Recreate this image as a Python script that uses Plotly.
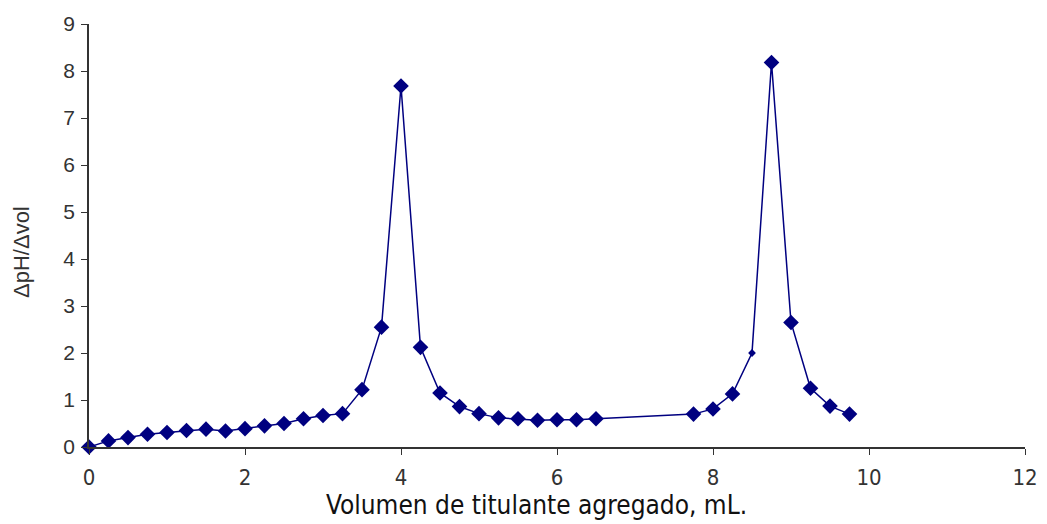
import plotly.graph_objects as go

# Titration derivative data: added titrant volume (mL) and ΔpH/Δvol
volumen = [0.0, 0.25, 0.5, 0.75, 1.0, 1.25, 1.5, 1.75, 2.0, 2.25, 2.5, 2.75,
           3.0, 3.25, 3.5, 3.75, 4.0, 4.25, 4.5, 4.75, 5.0, 5.25, 5.5, 5.75,
           6.0, 6.25, 6.5, 7.75, 8.0, 8.25, 8.5, 8.75, 9.0, 9.25, 9.5, 9.75]
dph_dvol = [0.0, 0.13, 0.2, 0.27, 0.31, 0.35, 0.38, 0.34, 0.39, 0.45, 0.5, 0.6,
            0.67, 0.71, 1.22, 2.55, 7.68, 2.12, 1.15, 0.86, 0.71, 0.62, 0.6, 0.57,
            0.58, 0.58, 0.6, 0.7, 0.81, 1.13, 2.0, 8.18, 2.65, 1.25, 0.87, 0.7]

x_ticks = [0, 2, 4, 6, 8, 10, 12]
y_ticks = [0, 1, 2, 3, 4, 5, 6, 7, 8, 9]

marker_sizes = [6 if v == 8.5 else 12 for v in volumen]

navy = "#000080"
axis_grey = "#333333"
narrow = "DejaVu Sans Condensed, Liberation Sans"
regular = "Liberation Sans"

fig = go.Figure(
    go.Scatter(
        x=volumen,
        y=dph_dvol,
        mode="lines+markers",
        line=dict(color=navy, width=1.5),
        marker=dict(symbol="diamond", size=marker_sizes, color=navy,
                    opacity=1, line=dict(width=0)),
        cliponaxis=False,
        showlegend=False,
    )
)

fig.update_layout(
    width=1047,
    height=524,
    margin=dict(l=89, r=22, t=24, b=77, autoexpand=False),
    paper_bgcolor="white",
    plot_bgcolor="white",
    xaxis=dict(
        range=[0, 12],
        tickvals=x_ticks,
        ticks="outside",
        ticklen=6,
        tickcolor=axis_grey,
        showline=True,
        linecolor=axis_grey,
        linewidth=1.5,
        showgrid=False,
        zeroline=False,
        automargin=False,
        ticklabelstandoff=4,
        tickfont=dict(family=narrow, size=22, color=axis_grey),
    ),
    yaxis=dict(
        range=[0, 9],
        tickvals=y_ticks,
        ticks="outside",
        ticklen=6,
        tickcolor=axis_grey,
        showline=True,
        linecolor=axis_grey,
        linewidth=1.5,
        showgrid=False,
        zeroline=False,
        automargin=False,
        ticklabelstandoff=2,
        tickfont=dict(family=regular, size=21, color=axis_grey),
    ),
    annotations=[
        dict(
            text="Volumen de titulante agregado, mL.",
            xref="paper", yref="paper",
            x=(536 - 89) / 936, y=-(505 - 447) / 423,
            xanchor="center", yanchor="middle",
            showarrow=False,
            font=dict(family=narrow, size=26, color="#111111"),
        ),
        dict(
            text="ΔpH/Δvol",
            xref="paper", yref="paper",
            x=-(89 - 21) / 936, y=(447 - 252) / 423,
            xanchor="center", yanchor="middle",
            textangle=-90,
            showarrow=False,
            font=dict(family=regular, size=22, color=axis_grey),
        ),
    ],
)

fig.write_html("out.html")
